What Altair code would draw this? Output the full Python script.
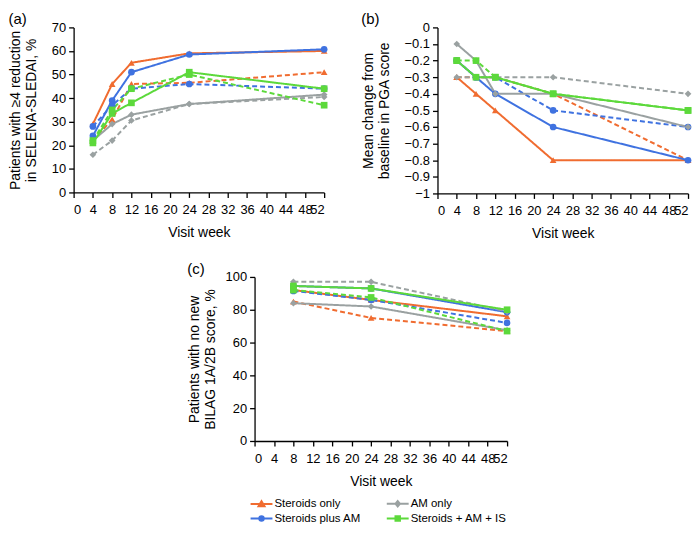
import altair as alt
import pandas as pd

groups = ["Steroids only", "Steroids plus AM", "AM only", "Steroids + AM + IS"]
colors = ["#F06C30", "#3F72E0", "#9AA1A1", "#5CD93B"]
shapes = ["triangle-up", "circle", "diamond", "square"]
# colour order used by the line/point scale (differs from legend order on purpose)
color_domain = ["Steroids only", "AM only", "Steroids plus AM", "Steroids + AM + IS"]
color_range = ["#F06C30", "#9AA1A1", "#3F72E0", "#5CD93B"]

weeks_ab = [4, 8, 12, 24, 52]
weeks_c = [8, 24, 52]

# Panel (a): patients with >=4 reduction in SELENA-SLEDAI, %
a_ster_solid = [29, 46, 55, 59, 60]
a_ster_dash = [22, 31, 46, 46.5, 51]
a_sam_solid = [24, 39, 51, 58.5, 60.7]
a_sam_dash = [28, 37, 44, 46, 44]
a_am_solid = [22, 29, 33, 37.5, 41.5]
a_am_dash = [16, 22, 30.5, 37.5, 40.5]
a_is_solid = [21, 33.5, 38, 51, 44]
a_is_dash = [22, 35, 44, 50, 37]

# Panel (b): mean change from baseline in PGA score
b_ster_solid = [-0.3, -0.4, -0.5, -0.8, -0.8]
b_ster_dash = [-0.3, -0.3, -0.3, -0.4, -0.8]
b_sam_solid = [-0.2, -0.3, -0.4, -0.6, -0.8]
b_sam_dash = [-0.2, -0.3, -0.3, -0.5, -0.6]
b_am_solid = [-0.1, -0.2, -0.4, -0.4, -0.6]
b_am_dash = [-0.3, -0.3, -0.3, -0.3, -0.4]
b_is_solid = [-0.2, -0.3, -0.3, -0.4, -0.5]
b_is_dash = [-0.2, -0.2, -0.3, -0.4, -0.5]

# Panel (c): patients with no new BILAG 1A/2B score, %
c_ster_solid = [92, 86, 76]
c_ster_dash = [85, 75, 67]
c_sam_solid = [94.5, 93, 78.5]
c_sam_dash = [91.5, 86, 72]
c_am_solid = [84, 82, 67.5]
c_am_dash = [97, 97, 79]
c_is_solid = [94.5, 93, 80]
c_is_dash = [92, 87.5, 67]


def build(weeks, series):
    rows = []
    for (g, style), vals in series.items():
        for w, v in zip(weeks, vals):
            rows.append({"group": g, "legend_group": g, "style": style, "week": w, "value": v})
    return pd.DataFrame(rows)


df_a = build(weeks_ab, {
    ("Steroids only", "solid"): a_ster_solid, ("Steroids only", "dashed"): a_ster_dash,
    ("Steroids plus AM", "solid"): a_sam_solid, ("Steroids plus AM", "dashed"): a_sam_dash,
    ("AM only", "solid"): a_am_solid, ("AM only", "dashed"): a_am_dash,
    ("Steroids + AM + IS", "solid"): a_is_solid, ("Steroids + AM + IS", "dashed"): a_is_dash,
})
df_b = build(weeks_ab, {
    ("Steroids only", "solid"): b_ster_solid, ("Steroids only", "dashed"): b_ster_dash,
    ("Steroids plus AM", "solid"): b_sam_solid, ("Steroids plus AM", "dashed"): b_sam_dash,
    ("AM only", "solid"): b_am_solid, ("AM only", "dashed"): b_am_dash,
    ("Steroids + AM + IS", "solid"): b_is_solid, ("Steroids + AM + IS", "dashed"): b_is_dash,
})
df_c = build(weeks_c, {
    ("Steroids only", "solid"): c_ster_solid, ("Steroids only", "dashed"): c_ster_dash,
    ("Steroids plus AM", "solid"): c_sam_solid, ("Steroids plus AM", "dashed"): c_sam_dash,
    ("AM only", "solid"): c_am_solid, ("AM only", "dashed"): c_am_dash,
    ("Steroids + AM + IS", "solid"): c_is_solid, ("Steroids + AM + IS", "dashed"): c_is_dash,
})

FONT = "Liberation Sans"
color_scale = alt.Scale(domain=color_domain, range=color_range)
dash_scale = alt.Scale(domain=["solid", "dashed"], range=[[1, 0], [5, 3]])

# legend symbols: a short line with a small marker in the middle (same order as groups)
leg_paths = [
    "M-2.2,0L2.2,0M0,-0.55L0.6,0.45L-0.6,0.45Z",   # Steroids only (triangle)
    "M-2.2,0L2.2,0M0.45,0A0.45,0.45,0,1,1,-0.45,0A0.45,0.45,0,1,1,0.45,0Z",  # Steroids plus AM (circle)
    "M-2.2,0L2.2,0M0,-0.55L0.45,0L0,0.55L-0.45,0Z",  # AM only (diamond)
    "M-2.2,0L2.2,0M-0.45,-0.45L0.45,-0.45L0.45,0.45L-0.45,0.45Z",  # Steroids + AM + IS (square)
]


def panel(df, ytitle, ydomain, yvalues, yfmt, w, h, label, xlabpad=6, ytp=13, legend=False):
    base = alt.Chart(df)
    x = alt.X("week:Q", scale=alt.Scale(domain=[0, 52], nice=False, zero=False),
              axis=alt.Axis(values=list(range(0, 53, 4)), title="Visit week", titlePadding=9,
                            labelPadding=xlabpad, labelOverlap=False))
    y = alt.Y("value:Q", scale=alt.Scale(domain=ydomain, nice=False, zero=False),
              axis=alt.Axis(values=yvalues, format=yfmt, title=ytitle, titlePadding=ytp,
                            labelPadding=3, labelOverlap=False))
    lines = base.mark_line(strokeWidth=2).encode(
        x=x, y=y,
        color=alt.Color("group:N", scale=color_scale, legend=None),
        strokeDash=alt.StrokeDash("style:N", scale=dash_scale, legend=None),
    )
    layers = [lines]
    for g, s in zip(groups, shapes):
        layers.append(
            base.transform_filter(alt.datum.group == g)
            .mark_point(shape=s, filled=True, size=45, opacity=1)
            .encode(x=x, y=y, color=alt.Color("group:N", scale=color_scale, legend=None))
        )
    if legend:
        lg = alt.Legend(orient="none", legendX=183, legendY=473, columns=2, title=None,
                        labelFont=FONT, labelFontSize=11.5, labelColor="black",
                        symbolSize=100, symbolStrokeWidth=2, labelOffset=7,
                        columnPadding=22, rowPadding=1, padding=0, symbolOpacity=1)
        layers.append(
            base.transform_filter("false").mark_point(filled=True, opacity=1).encode(
                x=x, y=y,
                shape=alt.Shape("legend_group:N", scale=alt.Scale(domain=groups, range=leg_paths), legend=lg),
                fill=alt.Fill("legend_group:N", scale=alt.Scale(domain=groups, range=colors), legend=lg),
                stroke=alt.Stroke("legend_group:N", scale=alt.Scale(domain=groups, range=colors), legend=lg),
            )
        )
    return alt.layer(*layers).properties(
        width=w, height=h,
        title=alt.TitleParams(label, anchor="start", fontSize=15, fontWeight="normal", font=FONT, offset=-6),
    )


pa = panel(df_a, ["Patients with \u22654 reduction", "in SELENA-SLEDAI, %"], [0, 70],
           list(range(0, 71, 10)), "d", 252, 166, "(a)")
pb = panel(df_b, ["Mean change from", "baseline in PGA score"], [-1, 0],
           [round(-i * 0.1, 1) for i in range(11)], ".1~f", 252, 167, "(b)")
pc = panel(df_c, ["Patients with no new", "BILAG 1A/2B score, %"], [0, 100],
           list(range(0, 101, 20)), "d", 254, 165, "(c)", xlabpad=7, ytp=8, legend=True)

chart = alt.vconcat(
    alt.hconcat(pa, pb, spacing=33),
    pc,
    spacing=22,
    center=True,
).properties(padding={"left": 0, "top": 3, "right": 0, "bottom": 0}).configure_axis(
    domainColor="black", tickColor="black", labelColor="black", titleColor="black",
    labelFont=FONT, titleFont=FONT, labelFontSize=13, titleFontSize=14,
    titleFontWeight="normal", grid=False, tickSize=5, domainWidth=1.3, tickWidth=1.3,
).configure_view(stroke=None)

chart.save("out.html", embed_options={"renderer": "svg", "actions": False})
